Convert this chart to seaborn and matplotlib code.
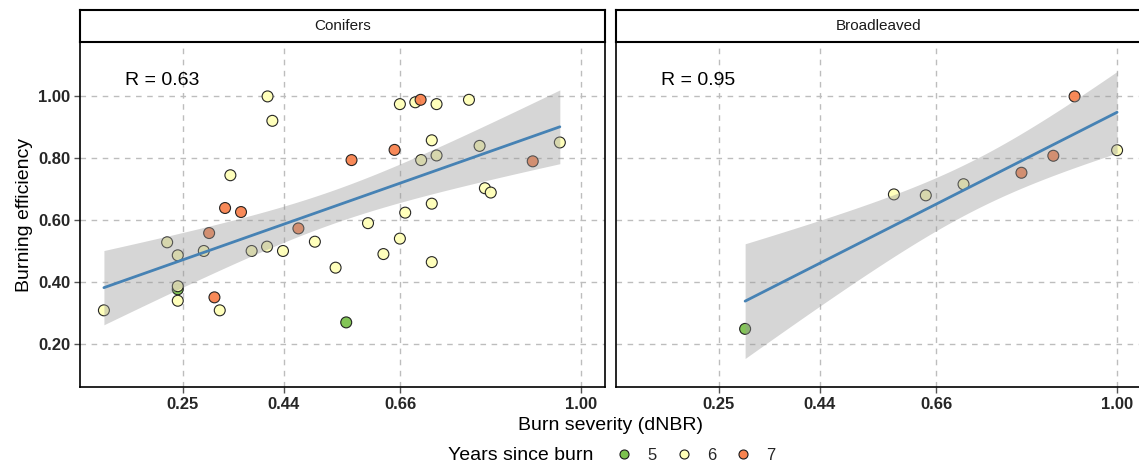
import numpy as np
import pandas as pd
import matplotlib
matplotlib.use("Agg")
import matplotlib.pyplot as plt
import seaborn as sns
from matplotlib.lines import Line2D

# ---------------- data ----------------
con_sev = [0.102, 0.221, 0.241, 0.241, 0.241, 0.241, 0.290, 0.300, 0.310, 0.320,
           0.330, 0.340, 0.360, 0.380, 0.409, 0.410, 0.419, 0.439, 0.468, 0.499,
           0.538, 0.558, 0.568, 0.599, 0.628, 0.649, 0.659, 0.659, 0.669, 0.688,
           0.698, 0.699, 0.719, 0.719, 0.719, 0.728, 0.728, 0.789, 0.809, 0.819,
           0.830, 0.909, 0.960]
con_eff = [0.308, 0.528, 0.486, 0.376, 0.386, 0.339, 0.500, 0.558, 0.350, 0.308,
           0.639, 0.745, 0.626, 0.500, 0.514, 1.000, 0.921, 0.500, 0.573, 0.530,
           0.446, 0.269, 0.794, 0.590, 0.490, 0.827, 0.975, 0.540, 0.624, 0.981,
           0.989, 0.794, 0.858, 0.653, 0.464, 0.975, 0.809, 0.989, 0.840, 0.703,
           0.689, 0.790, 0.851]
con_years = [6, 6, 6, 5, 6, 6, 6, 7, 7, 6,
             7, 6, 7, 6, 6, 6, 6, 6, 7, 6,
             6, 5, 7, 6, 6, 7, 6, 6, 6, 6,
             7, 6, 6, 6, 6, 6, 6, 6, 6, 6,
             6, 7, 6]

bro_sev = [0.300, 0.580, 0.640, 0.711, 0.820, 0.880, 0.920, 1.000]
bro_eff = [0.248, 0.683, 0.680, 0.716, 0.753, 0.808, 1.000, 0.826]
bro_years = [5, 6, 6, 6, 7, 7, 7, 6]

panels = ["Conifers", "Broadleaved"]
r_labels = ["R = 0.63", "R = 0.95"]
years = [5, 6, 7]
year_colors = {5: "#7cc24e", 6: "#ffffb8", 7: "#f8834f"}
x_ticks = [0.25, 0.44, 0.66, 1.00]
x_tick_labels = ["0.25", "0.44", "0.66", "1.00"]
y_ticks = [0.20, 0.40, 0.60, 0.80, 1.00]
y_tick_labels = ["0.20", "0.40", "0.60", "0.80", "1.00"]

# two-sided 95% Student-t quantiles by residual degrees of freedom
T_975 = {41: 2.0195, 6: 2.4469}

# ---------------- style ----------------
sns.set_theme(style="white")
plt.rcParams['font.family'] = ['Liberation Sans', 'DejaVu Sans']

W, H = 1139, 465
fig = plt.figure(figsize=(W / 100, H / 100), dpi=100)


def rect(x0, y0, x1, y1):
    return [x0 / W, 1 - y1 / H, (x1 - x0) / W, (y1 - y0) / H]


ax1 = fig.add_axes(rect(80, 42, 605, 387))
ax2 = fig.add_axes(rect(616, 42, 1141, 387), sharex=ax1, sharey=ax1)
strip1 = fig.add_axes(rect(80, 10, 605, 42))
strip2 = fig.add_axes(rect(616, 10, 1141, 42))

datasets = [
    pd.DataFrame({"sev": con_sev, "eff": con_eff, "years": con_years}),
    pd.DataFrame({"sev": bro_sev, "eff": bro_eff, "years": bro_years}),
]

for ax, strip, df, name, rlab in zip([ax1, ax2], [strip1, strip2], datasets, panels, r_labels):
    ax.set_facecolor("white")
    ax.set_axisbelow(True)
    ax.grid(True, color="#bdbdbd", linestyle=(0, (4, 4)), linewidth=1.0)
    sns.scatterplot(data=df, x="sev", y="eff", hue="years", palette=year_colors,
                    hue_order=years, s=62, edgecolor="#1a1a1a", linewidth=0.8,
                    alpha=0.95, legend=False, ax=ax, zorder=3)
    sns.regplot(data=df, x="sev", y="eff", scatter=False, ci=None,
                color="#4682b4", line_kws=dict(linewidth=2, zorder=5), ax=ax)
    # analytic 95% confidence band of the linear fit (as ggplot's geom_smooth)
    x = df["sev"].to_numpy()
    y = df["eff"].to_numpy()
    n = len(x)
    slope, intercept = np.polyfit(x, y, 1)
    grid = np.linspace(x.min(), x.max(), 100)
    yhat = intercept + slope * grid
    resid = y - (intercept + slope * x)
    s = np.sqrt(np.sum(resid ** 2) / (n - 2))
    sxx = np.sum((x - x.mean()) ** 2)
    se = s * np.sqrt(1.0 / n + (grid - x.mean()) ** 2 / sxx)
    t = T_975[n - 2]
    ax.fill_between(grid, yhat - t * se, yhat + t * se, facecolor="#999999",
                    alpha=0.4, linewidth=0, zorder=4)

    ax.text(0.141, 1.05, rlab, fontsize=14, ha="left", va="center", color="black")
    for sp in ax.spines.values():
        sp.set_color("black")
        sp.set_linewidth(1.2)
    ax.set_xlabel("")
    ax.set_ylabel("")
    # strip
    strip.set_xticks([])
    strip.set_yticks([])
    strip.set_facecolor("white")
    for sp in strip.spines.values():
        sp.set_color("black")
        sp.set_linewidth(1.5)
    strip.text(0.5, 0.5, name, ha="center", va="center", fontsize=11, color="#1a1a1a",
               transform=strip.transAxes)

ax1.set_xlim(0.057, 1.045)
ax1.set_ylim(0.060, 1.176)
ax1.set_xticks(x_ticks)
ax1.set_yticks(y_ticks)
for ax in [ax1, ax2]:
    ax.set_xticklabels(x_tick_labels, fontweight="bold", fontsize=12, color="#262626")
    ax.tick_params(axis="both", length=4, width=1, color="#555555", pad=3,
                   bottom=True, left=True)
ax1.set_yticklabels(y_tick_labels, fontweight="bold", fontsize=12, color="#262626")
ax2.tick_params(axis="y", left=False, labelleft=False)

ax1.set_ylabel("Burning efficiency", fontsize=14, color="black", labelpad=4)
fig.text(610 / W, 1 - 425 / H, "Burn severity (dNBR)", ha="center", va="center",
         fontsize=14, color="black")

# legend
fig.text(448 / W, 1 - 455 / H, "Years since burn", ha="left", va="center",
         fontsize=14, color="black")
handles = [Line2D([0], [0], marker="o", linestyle="none", markersize=6.5,
                  markerfacecolor=year_colors[y], markeredgecolor="#1a1a1a",
                  markeredgewidth=0.8) for y in years]
fig.legend(handles, [str(y) for y in years], loc="center left",
           bbox_to_anchor=(616 / W, 1 - 455 / H), ncol=3, frameon=False,
           fontsize=12, handletextpad=0.9, columnspacing=1.1, handlelength=1.0,
           borderaxespad=0, borderpad=0)

fig.savefig("out.png", dpi=100)
